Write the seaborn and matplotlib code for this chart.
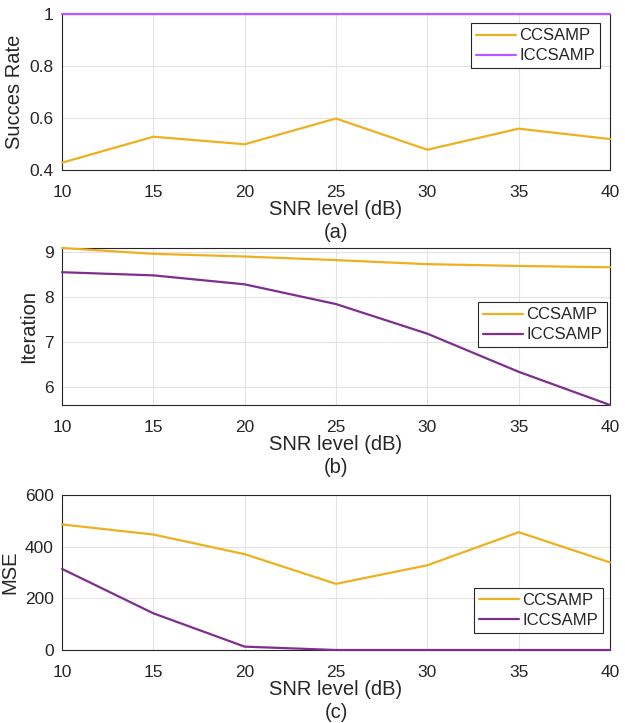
import matplotlib
matplotlib.use("Agg")
import matplotlib.pyplot as plt
import seaborn as sns
import pandas as pd

snr = [10, 15, 20, 25, 30, 35, 40]

succ_cc = [0.428, 0.528, 0.499, 0.598, 0.478, 0.559, 0.519]
succ_icc = [1.0, 1.0, 1.0, 1.0, 1.0, 1.0, 1.0]

iter_cc = [9.10, 8.97, 8.91, 8.83, 8.74, 8.70, 8.67]
iter_icc = [8.56, 8.49, 8.29, 7.85, 7.19, 6.34, 5.60]

mse_cc = [486, 447, 371, 256, 328, 456, 339]
mse_icc = [314, 142, 13, 0, 0, 0, 0]

series_names = ["CCSAMP", "ICCSAMP"]

sns.set_style("whitegrid")
plt.rcParams['font.family'] = ['Liberation Sans', 'DejaVu Sans']

fig = plt.figure(figsize=(6.25, 7.23), dpi=100)
W, H = 625, 723

def add_ax(l, t, r, b):
    return fig.add_axes([l / W, 1 - b / H, (r - l) / W, (b - t) / H])

axes = [add_ax(62, 14, 610, 170), add_ax(62, 248, 610, 405), add_ax(62, 495, 610, 650)]

orange = "#EDB120"
purples = ["#B45CFF", "#7E2F8E", "#7E2F8E"]

data = [
    (succ_cc, succ_icc, "Succes Rate", (0.4, 1.0), [0.4, 0.6, 0.8, 1.0], ["0.4", "0.6", "0.8", "1"]),
    (iter_cc, iter_icc, "Iteration", (5.6, 9.1), [6, 7, 8, 9], ["6", "7", "8", "9"]),
    (mse_cc, mse_icc, "MSE", (0, 600), [0, 200, 400, 600], ["0", "200", "400", "600"]),
]
leg_loc = [("upper right", (0.982, 0.94)), ("center right", (0.995, 0.51)), ("lower right", (0.987, 0.11))]
sub_labels = ["(a)", "(b)", "(c)"]

for i, ax in enumerate(axes):
    cc, icc, ylab, ylim, yt, ytl = data[i]
    df = pd.DataFrame({"SNR": snr * 2, "val": cc + icc,
                       "method": [series_names[0]] * len(snr) + [series_names[1]] * len(snr)})
    sns.lineplot(data=df, x="SNR", y="val", hue="method",
                 palette=[orange, purples[i]], linewidth=1.6, ax=ax, clip_on=False)
    for ln in ax.lines:
        ln.set_zorder(3)
    ax.set_xlim(10, 40)
    ax.set_ylim(*ylim)
    ax.set_xticks(snr)
    ax.set_yticks(yt)
    ax.set_yticklabels(ytl)
    ax.tick_params(axis="both", labelsize=12.5, colors="#262626", direction="in", length=3, width=0.6)
    ax.tick_params(axis="x", pad=11)
    ax.tick_params(axis="y", pad=6)
    ax.set_xlabel("SNR level (dB)", fontsize=14.5, color="#262626", labelpad=0)
    ax.set_ylabel(ylab, fontsize=14.5, color="#262626", labelpad=4)
    ax.grid(True, color="#e3e3e3", linewidth=0.8)
    for s in ax.spines.values():
        s.set_visible(True)
        s.set_color("#262626")
        s.set_linewidth(0.8)
    loc, anchor = leg_loc[i]
    leg = ax.legend(loc=loc, bbox_to_anchor=anchor, fontsize=12, frameon=True,
                    fancybox=False, handlelength=2.4, handletextpad=0.2,
                    borderpad=0.3, labelspacing=0.3, borderaxespad=0)
    leg.get_frame().set_edgecolor("#262626")
    leg.get_frame().set_linewidth(0.8)
    leg.get_frame().set_alpha(1)
    ax.text(0.5, -0.40, sub_labels[i], transform=ax.transAxes, ha="center", va="center",
            fontsize=14.5, color="#262626")

fig.savefig("out.png", dpi=100, facecolor="white")
